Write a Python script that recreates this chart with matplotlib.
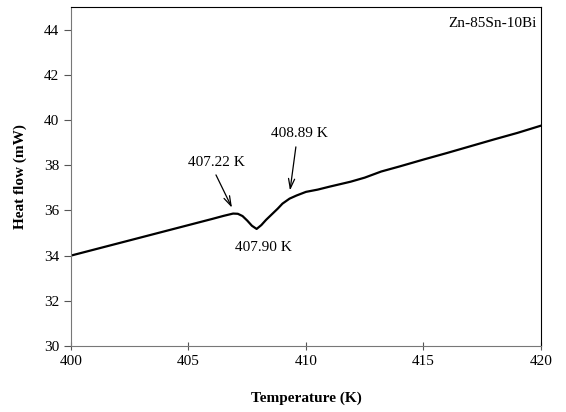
import matplotlib
matplotlib.use("Agg")
import matplotlib.pyplot as plt

plt.rcParams['font.family'] = ['Liberation Serif', 'DejaVu Serif']

# DSC trace
temperature = [400, 401, 402, 403, 404, 405, 406, 406.5, 406.9, 407.1, 407.3, 407.5,
               407.7, 407.9, 408.1, 408.3, 408.5, 408.8, 409.0, 409.3, 409.6, 410.0,
               410.5, 411.0, 411.9, 412.5, 413.2, 414, 415, 416, 417, 418, 419, 420]
heat_flow = [34.00, 34.27, 34.54, 34.81, 35.08, 35.35, 35.62, 35.76, 35.86, 35.85, 35.75,
             35.55, 35.32, 35.18, 35.35, 35.58, 35.78, 36.08, 36.30, 36.52, 36.66, 36.82,
             36.92, 37.05, 37.27, 37.45, 37.72, 37.95, 38.25, 38.54, 38.84, 39.14, 39.43,
             39.75]

x_ticks = [400, 405, 410, 415, 420]
y_ticks = [30, 32, 34, 36, 38, 40, 42, 44]

fig = plt.figure(figsize=(5.66, 4.12), dpi=100)
ax = fig.add_axes([0.1254, 0.1602, 0.8304, 0.8228])

ax.plot(temperature, heat_flow, color='black', linewidth=1.6)

ax.set_xlim(400, 420)
ax.set_ylim(30, 45)
ax.set_xticks(x_ticks)
ax.set_yticks(y_ticks)
ax.tick_params(axis='both', labelsize=11, color='#555555')
ax.tick_params(axis='y', direction='out', length=5)
ax.tick_params(axis='x', direction='inout', length=6)
ax.spines['left'].set_color('#777777')
ax.spines['bottom'].set_color('#777777')

ax.set_xlabel('Temperature (K)', fontsize=11, fontweight='bold', labelpad=17)
ax.set_ylabel('Heat flow (mW)', fontsize=11, fontweight='bold', labelpad=12)

# annotations
arrow = dict(arrowstyle='->,head_length=0.7,head_width=0.22', color='black', lw=0.9,
             shrinkA=0, shrinkB=0)
ax.text(406.17, 38.14, '407.22 K', fontsize=11, ha='center', va='center')
ax.annotate('', xy=(406.85, 36.12), xytext=(406.17, 37.57), arrowprops=arrow)
ax.text(409.74, 39.42, '408.89 K', fontsize=11, ha='center', va='center')
ax.annotate('', xy=(409.32, 36.88), xytext=(409.57, 38.81), arrowprops=arrow)
ax.text(408.17, 34.38, '407.90 K', fontsize=11, ha='center', va='center')
ax.text(0.99, 0.97, 'Zn-85Sn-10Bi', transform=ax.transAxes, fontsize=11,
        ha='right', va='top')

fig.savefig('out.png', dpi=100)
